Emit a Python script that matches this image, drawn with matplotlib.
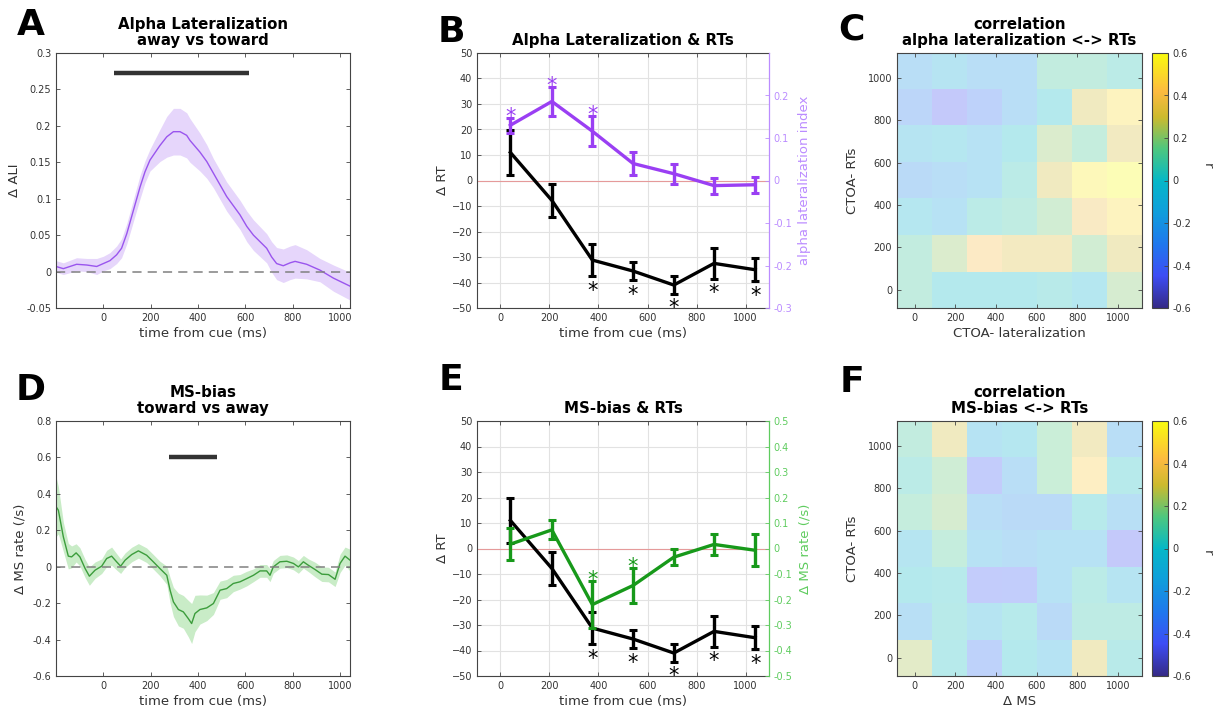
import numpy as np
import matplotlib
matplotlib.use("Agg")
import matplotlib.pyplot as plt
from matplotlib.colors import LinearSegmentedColormap, Normalize
from matplotlib.cm import ScalarMappable

# ---------------- data ----------------
# A: alpha lateralization (away vs toward), mean and SEM over time
a_time = [-200, -169, -113, -70, -28, 0, 28, 56, 77, 99, 127, 155, 176, 197, 239, 268,
          296, 324, 352, 366, 408, 437, 465, 493, 521, 577, 606, 634, 690, 711, 732,
          760, 789, 810, 859, 915, 972, 1042]
a_mean = [0.007, 0.004, 0.010, 0.009, 0.007, 0.011, 0.015, 0.023, 0.032, 0.052, 0.084,
          0.116, 0.137, 0.153, 0.173, 0.185, 0.192, 0.192, 0.187, 0.180, 0.164, 0.151,
          0.135, 0.119, 0.103, 0.078, 0.062, 0.050, 0.032, 0.020, 0.011, 0.008, 0.012,
          0.014, 0.010, 0.002, -0.009, -0.020]
a_sem = [0.008, 0.008, 0.009, 0.009, 0.011, 0.010, 0.011, 0.012, 0.013, 0.014, 0.015,
         0.016, 0.015, 0.015, 0.022, 0.028, 0.032, 0.032, 0.031, 0.030, 0.026, 0.023,
         0.020, 0.020, 0.020, 0.020, 0.021, 0.021, 0.020, 0.021, 0.022, 0.023, 0.023,
         0.023, 0.020, 0.016, 0.018, 0.019]
a_sig = [46, 617]

# D: microsaccade bias (toward vs away)
d_time = [-200, -190, -169, -148, -134, -115, -99, -77, -59, -35, -7, 14, 35, 56, 73, 92,
          120, 148, 183, 211, 239, 268, 282, 296, 317, 338, 359, 373, 387, 408, 437, 465,
          493, 521, 549, 577, 606, 634, 662, 690, 704, 718, 746, 775, 803, 824, 845, 866,
          894, 923, 951, 979, 1000, 1021, 1042]
d_mean = [0.33, 0.31, 0.164, 0.058, 0.054, 0.076, 0.054, -0.01, -0.052, -0.019, 0.003,
          0.045, 0.058, 0.027, 0.003, 0.036, 0.067, 0.087, 0.063, 0.027, -0.01, -0.047,
          -0.129, -0.193, -0.235, -0.248, -0.285, -0.312, -0.257, -0.235, -0.226, -0.202,
          -0.129, -0.12, -0.092, -0.083, -0.065, -0.047, -0.023, -0.023, -0.047, -0.001,
          0.027, 0.030, 0.018, -0.001, 0.027, 0.008, -0.015, -0.041, -0.043, -0.069,
          0.018, 0.058, 0.036]
d_sem = [0.165, 0.13, 0.08, 0.07, 0.06, 0.05, 0.05, 0.05, 0.05, 0.045, 0.04, 0.045, 0.05,
         0.045, 0.04, 0.04, 0.04, 0.04, 0.04, 0.04, 0.04, 0.05, 0.07, 0.08, 0.09, 0.09,
         0.10, 0.11, 0.10, 0.08, 0.07, 0.06, 0.05, 0.05, 0.045, 0.04, 0.04, 0.035, 0.035,
         0.035, 0.035, 0.035, 0.035, 0.035, 0.035, 0.035, 0.035, 0.035, 0.04, 0.04, 0.04,
         0.04, 0.05, 0.05, 0.06]
d_sig = [279, 482]

# B / E: binned CTOAs
ctoa = [41, 210, 375, 541, 707, 871, 1039]
rt_mean = [11.0, -7.8, -31.2, -35.5, -41.0, -32.5, -35.0]
rt_sem = [8.7, 6.5, 6.4, 3.6, 3.5, 6.0, 4.6]
rt_sig = [False, False, True, True, True, True, True]

ali_mean = [0.130, 0.186, 0.116, 0.040, 0.016, -0.012, -0.010]
ali_sem = [0.018, 0.034, 0.036, 0.028, 0.024, 0.019, 0.019]
ali_sig = [True, True, True, False, False, False, False]

ms_mean = [0.017, 0.073, -0.220, -0.145, -0.034, 0.016, -0.007]
ms_sem = [0.064, 0.037, 0.092, 0.068, 0.031, 0.041, 0.063]
ms_sig = [False, False, True, True, False, False, False]

# C / F: correlation matrices (rows: CTOA-RTs from 0 upward, cols: CTOA of predictor)
corr_ali = [
    [0.10, 0.00, 0.00, 0.00, 0.03, -0.05, 0.20],
    [0.10, 0.22, 0.40, 0.33, 0.33, 0.18, 0.30],
    [-0.05, -0.15, 0.05, 0.08, 0.18, 0.38, 0.50],
    [-0.25, -0.20, -0.15, 0.05, 0.30, 0.55, 0.60],
    [-0.10, -0.05, -0.15, 0.00, 0.22, 0.12, 0.32],
    [-0.30, -0.45, -0.35, -0.20, 0.00, 0.30, 0.50],
    [-0.20, -0.10, -0.20, -0.20, 0.10, 0.10, 0.05],
]
corr_ms = [
    [0.25, 0.02, -0.35, 0.00, -0.12, 0.30, 0.03],
    [-0.18, 0.03, -0.10, 0.02, -0.25, 0.07, 0.07],
    [0.00, 0.02, -0.42, -0.40, -0.15, 0.05, -0.10],
    [-0.08, 0.12, -0.15, -0.20, -0.15, -0.15, -0.45],
    [0.12, 0.20, -0.20, -0.25, -0.25, 0.02, -0.18],
    [0.05, 0.17, -0.42, -0.20, 0.15, 0.45, 0.02],
    [0.10, 0.30, -0.12, -0.05, 0.15, 0.32, -0.20],
]
cell_ticks = [0, 200, 400, 600, 800, 1000]

# ---------------- style ----------------
W, H = 1213, 711
plt.rcParams["font.family"] = ["DejaVu Sans"]
TICK_FS = 7.0
LAB_FS = 9.5
TITLE_FS = 10.8
AX_COL = "#444444"
TXT_COL = "#333333"

parula = LinearSegmentedColormap.from_list("parula", [
    (0.000, (0.208, 0.166, 0.529)),
    (0.125, (0.240, 0.300, 0.960)),
    (0.250, (0.120, 0.470, 0.930)),
    (0.375, (0.060, 0.620, 0.860)),
    (0.500, (0.020, 0.720, 0.780)),
    (0.625, (0.300, 0.780, 0.500)),
    (0.750, (0.800, 0.730, 0.180)),
    (0.850, (0.990, 0.730, 0.250)),
    (1.000, (0.976, 0.984, 0.054)),
])

fig = plt.figure(figsize=(W / 100, H / 100), dpi=100)


def axes_px(l, t, r, b):
    return fig.add_axes([l / W, 1 - b / H, (r - l) / W, (b - t) / H])


def style(ax, right=True):
    for s in ax.spines.values():
        s.set_color(AX_COL)
        s.set_linewidth(0.8)
    ax.tick_params(direction="in", length=3, width=0.6, colors=AX_COL,
                   labelsize=TICK_FS, labelcolor=TXT_COL, top=True, right=right)


def panel_letter(x, y, s):
    fig.text(x / W, 1 - y / H, s, fontsize=26, fontweight="bold",
             ha="center", va="center")


def star(ax, x, y, dy_px, color):
    # asterisk glyph centre placed dy_px pixels above (or below) y
    ax.annotate("*", xy=(x, y), xytext=(0, dy_px * 0.72 - 8.5),
                textcoords="offset points", ha="center", va="baseline",
                fontsize=15, color=color)


# ---------------- A ----------------
axA = axes_px(56, 53, 350, 308)
style(axA)
am, asd = np.array(a_mean), np.array(a_sem)
axA.fill_between(a_time, am - asd, am + asd, color="#e6d6fb", lw=0)
axA.plot(a_time, am, color="#9a55ee", lw=1.0)
axA.axhline(0, color="#808080", lw=1.1, ls=(0, (6, 4)))
axA.plot(a_sig, [0.272, 0.272], color="#333333", lw=3.2, solid_capstyle="butt")
axA.set_xlim(-200, 1042)
axA.set_ylim(-0.05, 0.3)
axA.set_xticks([0, 200, 400, 600, 800, 1000])
axA.set_yticks(np.arange(-0.05, 0.301, 0.05))
axA.set_yticklabels(["-0.05", "0", "0.05", "0.1", "0.15", "0.2", "0.25", "0.3"])
axA.set_xlabel("time from cue (ms)", fontsize=LAB_FS, color=TXT_COL, labelpad=3)
axA.set_ylabel("Δ ALI", fontsize=LAB_FS, color=TXT_COL, labelpad=4)
axA.set_title("Alpha Lateralization\naway vs toward", fontsize=TITLE_FS,
              fontweight="bold", linespacing=1.05, pad=6)

# ---------------- D ----------------
axD = axes_px(56, 421, 350, 676)
style(axD)
dm, dsd = np.array(d_mean), np.array(d_sem)
axD.fill_between(d_time, dm - dsd, dm + dsd, color="#c9ecc7", lw=0)
axD.plot(d_time, dm, color="#3c9d3c", lw=1.0)
axD.axhline(0, color="#808080", lw=1.1, ls=(0, (6, 4)))
axD.plot(d_sig, [0.6, 0.6], color="#333333", lw=3.2, solid_capstyle="butt")
axD.set_xlim(-200, 1042)
axD.set_ylim(-0.6, 0.8)
axD.set_xticks([0, 200, 400, 600, 800, 1000])
axD.set_yticks(np.arange(-0.6, 0.81, 0.2))
axD.set_yticklabels(["-0.6", "-0.4", "-0.2", "0", "0.2", "0.4", "0.6", "0.8"])
axD.set_xlabel("time from cue (ms)", fontsize=LAB_FS, color=TXT_COL, labelpad=3)
axD.set_ylabel("Δ MS rate (/s)", fontsize=LAB_FS, color=TXT_COL, labelpad=4)
axD.set_title("MS-bias\ntoward vs away", fontsize=TITLE_FS,
              fontweight="bold", linespacing=1.05, pad=6)


# ---------------- B / E ----------------
def rt_panel(box, title, y2, y2_sem, y2_sig, y2_lim, y2_ticks, y2_labels,
             col, axcol, y2_label, star_px):
    ax = axes_px(*box)
    style(ax, right=False)
    ax.spines["right"].set_visible(False)
    ax.grid(True, color="#e2e2e2", lw=0.8)
    ax.set_axisbelow(True)
    ax.axhline(0, color="#e59a9a", lw=0.8)
    ax.errorbar(ctoa, rt_mean, yerr=rt_sem, color="black", lw=2.4,
                elinewidth=2.4, capsize=3.2, capthick=2.2)
    for x, m, s, sig in zip(ctoa, rt_mean, rt_sem, rt_sig):
        if sig:
            star(ax, x, m - s, -8.5, "black")
    ax.set_xlim(-95, 1095)
    ax.set_ylim(-50, 50)
    ax.set_xticks([0, 200, 400, 600, 800, 1000])
    ax.set_yticks(np.arange(-50, 51, 10))
    ax.set_xlabel("time from cue (ms)", fontsize=LAB_FS, color=TXT_COL, labelpad=3)
    ax.set_ylabel("Δ RT", fontsize=LAB_FS, color=TXT_COL, labelpad=2)
    ax.set_title(title, fontsize=TITLE_FS, fontweight="bold", pad=6)

    ax2 = ax.twinx()
    for s in ["left", "top", "bottom"]:
        ax2.spines[s].set_visible(False)
    ax2.spines["right"].set_color(axcol)
    ax2.spines["right"].set_linewidth(0.9)
    ax2.tick_params(direction="in", length=3, width=0.6, colors=axcol,
                    labelsize=TICK_FS, labelcolor=axcol)
    ax2.errorbar(ctoa, y2, yerr=y2_sem, color=col, lw=2.4,
                 elinewidth=2.4, capsize=3.2, capthick=2.2)
    for x, m, s, sig in zip(ctoa, y2, y2_sem, y2_sig):
        if sig:
            star(ax2, x, m + s, star_px, col)
    ax2.set_ylim(*y2_lim)
    ax2.set_yticks(y2_ticks)
    ax2.set_yticklabels(y2_labels)
    ax2.set_ylabel(y2_label, fontsize=LAB_FS, color=axcol, labelpad=4)
    return ax, ax2


rt_panel((477, 53, 769, 308), "Alpha Lateralization & RTs",
         ali_mean, ali_sem, ali_sig, (-0.3, 0.3),
         [-0.3, -0.2, -0.1, 0, 0.1, 0.2], ["-0.3", "-0.2", "-0.1", "0", "0.1", "0.2"],
         "#9a3ff3", "#bb8cff", "alpha lateralization index", 6.5)

rt_panel((477, 421, 769, 676), "MS-bias & RTs",
         ms_mean, ms_sem, ms_sig, (-0.5, 0.5),
         np.arange(-0.5, 0.51, 0.1),
         ["-0.5", "-0.4", "-0.3", "-0.2", "-0.1", "0", "0.1", "0.2", "0.3", "0.4", "0.5"],
         "#17991a", "#5fcc5f", "Δ MS rate (/s)", 7.0)


# ---------------- C / F ----------------
norm = Normalize(vmin=-0.6, vmax=0.6)


def corr_panel(box, cbox, data, title, xlabel, rlabel_y):
    ax = axes_px(*box)
    style(ax)
    ax.imshow(np.array(data), origin="lower", cmap=parula, norm=norm, alpha=0.3,
              extent=[-86, 1118, -86, 1118], aspect="auto", interpolation="nearest")
    ax.set_xticks(cell_ticks)
    ax.set_yticks(cell_ticks)
    ax.set_xlabel(xlabel, fontsize=LAB_FS, color=TXT_COL, labelpad=3)
    ax.set_ylabel("CTOA- RTs", fontsize=LAB_FS, color=TXT_COL, labelpad=6)
    ax.set_title(title, fontsize=TITLE_FS, fontweight="bold", linespacing=1.05, pad=6)

    cax = axes_px(*cbox)
    cb = fig.colorbar(ScalarMappable(norm=norm, cmap=parula), cax=cax)
    cb.set_ticks([-0.6, -0.4, -0.2, 0, 0.2, 0.4, 0.6])
    cb.set_ticklabels(["-0.6", "-0.4", "-0.2", "0", "0.2", "0.4", "0.6"])
    cb.outline.set_edgecolor(AX_COL)
    cb.outline.set_linewidth(0.8)
    cax.tick_params(direction="in", length=3, width=0.6, colors=AX_COL,
                    labelsize=TICK_FS, labelcolor=TXT_COL)
    fig.text(1207 / W, 1 - rlabel_y / H, "r", fontsize=LAB_FS, color=TXT_COL,
             rotation=-90, ha="center", va="center")


corr_panel((897, 53, 1142, 308), (1152, 53, 1168, 308), corr_ali,
           "correlation\nalpha lateralization <-> RTs", "CTOA- lateralization", 166)
corr_panel((897, 421, 1142, 676), (1152, 421, 1168, 676), corr_ms,
           "correlation\nMS-bias <-> RTs", "Δ MS", 553)

# ---------------- panel letters ----------------
panel_letter(31, 25, "A")
panel_letter(451, 32, "B")
panel_letter(851, 29, "C")
panel_letter(31, 390, "D")
panel_letter(451, 380, "E")
panel_letter(852, 382, "F")

fig.savefig("out.png", dpi=100, facecolor="white")
